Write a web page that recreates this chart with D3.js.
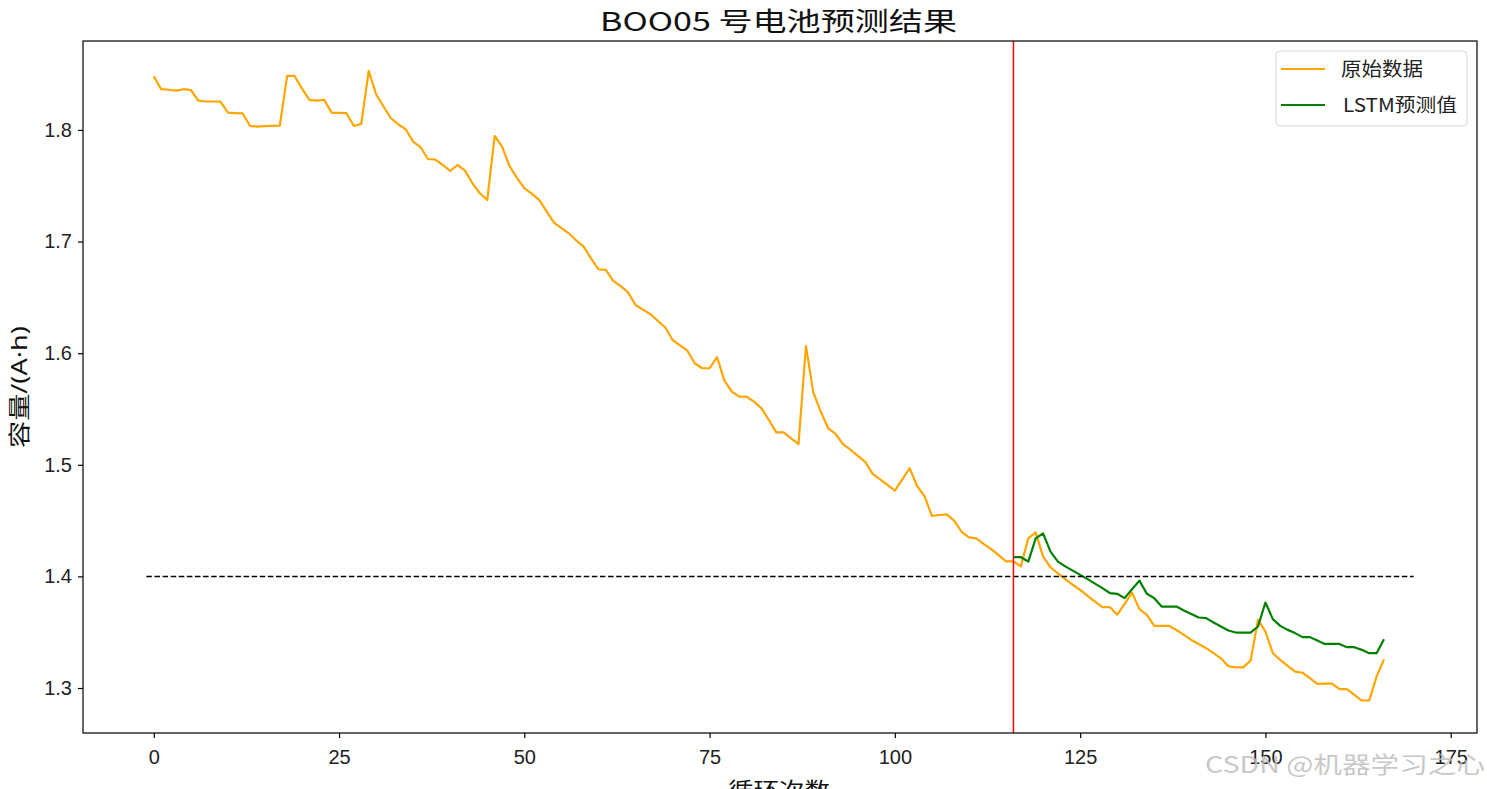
<!DOCTYPE html>
<html>
<head>
<meta charset="utf-8">
<script src="https://cdn.jsdelivr.net/npm/d3@7"></script>
<style>
  html, body { margin: 0; padding: 0; background: #fff; }
  svg { display: block; font-family: "Noto Sans CJK SC", "Noto Sans", sans-serif; }
</style>
</head>
<body>
<svg id="chart"></svg>
<script>
// capacity of battery B0005
const rawCapacity = [
  1.848, 1.8365, 1.836, 1.8352, 1.8365, 1.8358, 1.8263, 1.8255, 1.8255, 1.8254,
  1.8155, 1.815, 1.8148, 1.8036, 1.803, 1.8035, 1.8037, 1.8039, 1.8484, 1.8484,
  1.837, 1.8269, 1.8263, 1.8269, 1.8155, 1.8153, 1.815, 1.8036, 1.8054, 1.8529,
  1.832, 1.821, 1.8105, 1.805, 1.8006, 1.7895, 1.7845, 1.774, 1.7735, 1.7686,
  1.7633, 1.7686, 1.7636, 1.7522, 1.7433, 1.7373, 1.7946, 1.785, 1.7677, 1.757,
  1.7478, 1.743, 1.7373, 1.727, 1.717, 1.712, 1.7074, 1.701, 1.6955, 1.685,
  1.6752, 1.6746, 1.6647, 1.66, 1.6545, 1.6432, 1.639, 1.6351, 1.629, 1.6232,
  1.6118, 1.607, 1.6022, 1.591, 1.5865, 1.5865, 1.5964, 1.5754, 1.5656, 1.561,
  1.561, 1.5566, 1.5506, 1.5401, 1.529, 1.529, 1.5237, 1.5186, 1.6064, 1.5647,
  1.5477, 1.5327, 1.5276, 1.5186, 1.5135, 1.508, 1.5027, 1.4918, 1.487, 1.482,
  1.4769, 1.487, 1.4969, 1.481, 1.472, 1.4541, 1.455, 1.4556, 1.45, 1.44,
  1.435, 1.434, 1.429, 1.4245, 1.419, 1.4135, 1.4135, 1.409, 1.434, 1.4394,
  1.4177, 1.4082, 1.4028, 1.3975, 1.3925, 1.388, 1.3826, 1.3775, 1.3725, 1.3725,
  1.3656, 1.3754, 1.3855, 1.3707, 1.3656, 1.3557, 1.3557, 1.3557, 1.352, 1.3476,
  1.3431, 1.3395, 1.3357, 1.3312, 1.3266, 1.3195, 1.3185, 1.3185, 1.3245, 1.361,
  1.3505, 1.3312, 1.3252, 1.3198, 1.3147, 1.3137, 1.3088, 1.3037, 1.304, 1.304,
  1.299, 1.299, 1.2939, 1.2888, 1.2888, 1.3102, 1.3257
];

// LSTM prediction, starts at the split cycle
const predStart = 116;
const lstmPred = [
  1.4172, 1.4172, 1.4133, 1.434, 1.4385, 1.4222, 1.4133, 1.409, 1.4052, 1.4014,
  1.3976, 1.3935, 1.3895, 1.3851, 1.3844, 1.3805, 1.3885, 1.3962, 1.3844, 1.3805,
  1.373, 1.373, 1.373, 1.3694, 1.3664, 1.3632, 1.3626, 1.3587, 1.3551, 1.3515,
  1.3497, 1.3497, 1.3497, 1.3551, 1.3766, 1.3617, 1.3557, 1.3521, 1.3492, 1.3456,
  1.3456, 1.3425, 1.3395, 1.3395, 1.3395, 1.3366, 1.3366, 1.3342, 1.3312, 1.3312,
  1.3437
];

const threshold = 1.4;
const thresholdSpan = [-1, 170];
const xTicks = [0, 25, 50, 75, 100, 125, 150, 175];
const yTicks = [1.3, 1.4, 1.5, 1.6, 1.7, 1.8];
const legendLabels = ["原始数据", "LSTM预测值"];

const width = 1487;
const height = 789;
const plot = {left: 83, right: 1477, top: 41, bottom: 733};

const svg = d3.select("svg#chart")
    .attr("width", width)
    .attr("height", height)
    .attr("viewBox", [0, 0, width, height]);

const x = d3.scaleLinear()
    .domain([-9.55, 178.55])
    .range([plot.left, plot.right]);

const y = d3.scaleLinear()
    .domain([1.2597, 1.8797])
    .range([plot.bottom, plot.top]);

const raw = rawCapacity.map((v, i) => ({cycle: i, value: v}));
const pred = lstmPred.map((v, i) => ({cycle: predStart + i, value: v}));

const line = d3.line()
    .x(d => x(d.cycle))
    .y(d => y(d.value));

// clip to axes area
svg.append("clipPath")
    .attr("id", "plot-clip")
  .append("rect")
    .attr("x", plot.left)
    .attr("y", plot.top)
    .attr("width", plot.right - plot.left)
    .attr("height", plot.bottom - plot.top);

const g = svg.append("g").attr("clip-path", "url(#plot-clip)");

g.append("path")
    .datum(raw)
    .attr("fill", "none")
    .attr("stroke", "orange")
    .attr("stroke-width", 2.2)
    .attr("stroke-linejoin", "round")
    .attr("d", line);

g.append("path")
    .datum(pred)
    .attr("fill", "none")
    .attr("stroke", "green")
    .attr("stroke-width", 2.2)
    .attr("stroke-linejoin", "round")
    .attr("d", line);

// failure threshold
g.append("line")
    .attr("x1", x(thresholdSpan[0]))
    .attr("x2", x(thresholdSpan[1]))
    .attr("y1", y(threshold))
    .attr("y2", y(threshold))
    .attr("stroke", "#000")
    .attr("stroke-width", 1.5)
    .attr("stroke-dasharray", "5.5,2.6");

// train / predict split
g.append("line")
    .attr("x1", x(predStart))
    .attr("x2", x(predStart))
    .attr("y1", plot.top)
    .attr("y2", plot.bottom)
    .attr("stroke", "red")
    .attr("stroke-width", 1.5);

// axes
const xAxis = svg.append("g")
    .attr("transform", `translate(0,${plot.bottom})`)
    .call(d3.axisBottom(x).tickValues(xTicks).tickSize(5).tickSizeOuter(0).tickPadding(12));

const yAxis = svg.append("g")
    .attr("transform", `translate(${plot.left},0)`)
    .call(d3.axisLeft(y).tickValues(yTicks).tickFormat(d3.format(".1f")).tickSize(5).tickSizeOuter(0).tickPadding(6));

[xAxis, yAxis].forEach(a => {
  a.select(".domain").remove();
  a.selectAll("text")
      .attr("fill", "#222")
      .style("font-size", "20px");
  a.selectAll("line").attr("stroke", "#000").attr("stroke-width", 1.2);
});

svg.append("rect")
    .attr("x", plot.left)
    .attr("y", plot.top)
    .attr("width", plot.right - plot.left)
    .attr("height", plot.bottom - plot.top)
    .attr("fill", "none")
    .attr("stroke", "#000")
    .attr("stroke-width", 1.2);

// title and axis labels
svg.append("text")
    .attr("x", 600)
    .attr("y", 31)
    .attr("textLength", 357)
    .attr("lengthAdjust", "spacingAndGlyphs")
    .style("font-size", "26px")
    .attr("fill", "#111")
    .text("BOO05 号电池预测结果");

svg.append("text")
    .attr("transform", `translate(27,${(plot.top + plot.bottom) / 2}) rotate(-90)`)
    .attr("text-anchor", "middle")
    .attr("textLength", 122)
    .attr("lengthAdjust", "spacingAndGlyphs")
    .style("font-family", "'Noto Sans', 'Noto Sans CJK SC', sans-serif")
    .style("font-size", "22px")
    .attr("fill", "#111")
    .text("容量/(A·h)");

svg.append("text")
    .attr("x", 728)
    .attr("y", 798)
    .attr("textLength", 102)
    .attr("lengthAdjust", "spacingAndGlyphs")
    .style("font-size", "22px")
    .attr("fill", "#111")
    .text("循环次数");

// legend
const legend = svg.append("g");
legend.append("rect")
    .attr("x", 1276)
    .attr("y", 51)
    .attr("width", 191)
    .attr("height", 75)
    .attr("rx", 4)
    .attr("fill", "#fff")
    .attr("fill-opacity", 0.8)
    .attr("stroke", "#d6d6d6");

const legendItems = legend.selectAll("g.item")
    .data([
      {label: legendLabels[0], color: "orange", w: 82},
      {label: legendLabels[1], color: "green", w: 114}
    ])
    .join("g")
    .attr("class", "item")
    .attr("transform", (d, i) => `translate(0,${69 + i * 36})`);

legendItems.append("line")
    .attr("x1", 1281)
    .attr("x2", 1325)
    .attr("stroke", d => d.color)
    .attr("stroke-width", 2.2);

legendItems.append("text")
    .attr("x", (d, i) => i === 0 ? 1341 : 1343)
    .attr("dy", "0.35em")
    .attr("textLength", d => d.w)
    .attr("lengthAdjust", "spacingAndGlyphs")
    .style("font-size", "19px")
    .attr("fill", "#222")
    .text(d => d.label);

// watermark
svg.append("text")
    .attr("x", 1205)
    .attr("y", 773)
    .attr("textLength", 280)
    .attr("lengthAdjust", "spacingAndGlyphs")
    .style("font-size", "23px")
    .attr("fill", "#bdbdbd")
    .attr("fill-opacity", 0.85)
    .text("CSDN @机器学习之心");
</script>
</body>
</html>
